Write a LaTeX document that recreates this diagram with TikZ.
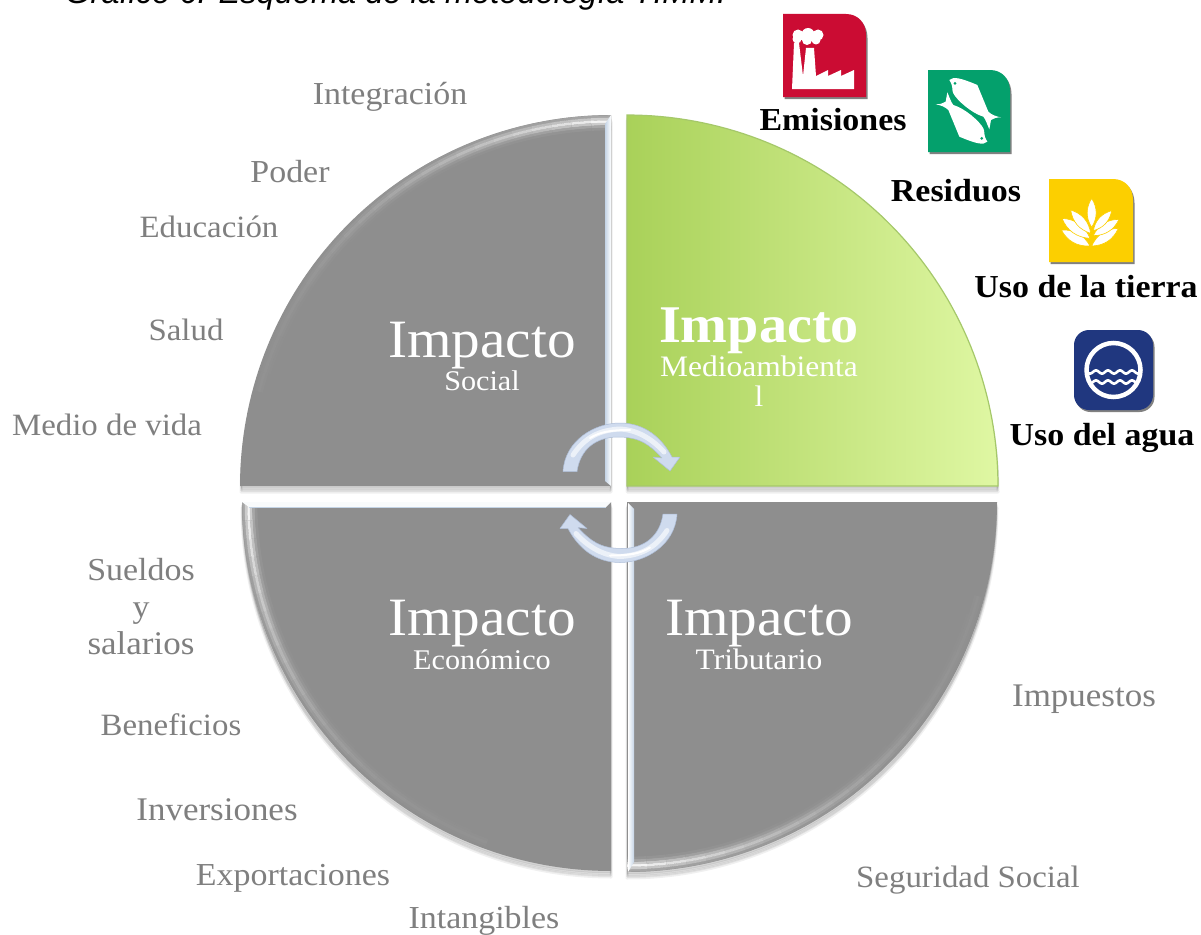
\documentclass[tikz,border=0pt]{standalone}
\usepackage{fontspec}
\setmainfont[FakeStretch=1.06]{Liberation Serif}
\newfontfamily\titlefont{Liberation Sans}
\definecolor{qgray}{HTML}{8E8E8E}
\definecolor{lblgray}{HTML}{7F7F7F}
\definecolor{iconred}{HTML}{CB0C33}
\definecolor{icongreen}{HTML}{04A06C}
\definecolor{iconyellow}{HTML}{FCCF00}
\definecolor{iconblue}{HTML}{20377F}
\definecolor{arrowfill}{HTML}{CFDBEE}
\definecolor{arrowedge}{HTML}{AEBED8}
\definecolor{greenL}{HTML}{A9D159}
\definecolor{greenR}{HTML}{DFF7A3}
\definecolor{greenE}{HTML}{A5C86A}
\definecolor{stripblue}{HTML}{C4D4E6}
\newcommand{\fsz}[1]{\fontsize{#1}{#1}\selectfont}
\newcommand{\qpath}[5]{(#1,#2) -- plot[domain=#3:#4,samples=70] ({#1+#5*cos(\x)},{#2-#5*sin(\x)}) -- cycle}
\newcommand{\qshadow}[5]{%
  \foreach \w/\s in {3/-6pt,2/-4pt,1/-2pt}{\draw[black,fill=black,opacity=.06,line width=\w pt,line join=round] [yshift=\s] \qpath{#1}{#2}{#3}{#4}{#5};}}
\newcommand{\qgloss}[5]{%
  \foreach \d/\g in {1.5/22,4/55,6.5/90,9/55,11.5/22,14/6}{%
    \foreach \i in {0,...,23}{%
      \pgfmathsetmacro{\aa}{#4+(#5-#4)*\i/24}%
      \pgfmathsetmacro{\ab}{#4+(#5-#4)*(\i+1)/24}%
      \pgfmathsetmacro{\op}{0.04+0.96*(1-\i/24)^2.5}%
      \draw[white!\g!qgray,opacity=\op,line width=2.6pt]
        plot[domain=\aa:\ab,samples=3] ({#1+(#3-\d)*cos(\x)},{#2-(#3-\d)*sin(\x)});
    }}}
\newcommand{\leaf}[2]{\filldraw[fill=white,draw=iconyellow,line width=.6pt] (#1) to[bend left=32] (#2) to[bend left=32] (#1) -- cycle;}
\newcommand{\fishshape}{(628,240) .. controls (640,228) and (665,235) .. (712,255) -- (745,335) .. controls (755,345) and (770,350) .. (783,352) .. controls (770,352) and (760,355) .. (753,360) -- (748,388) .. controls (742,375) and (737,358) .. (730,350) .. controls (695,340) and (650,300) .. (640,280) .. controls (634,270) and (642,262) .. (628,240) -- cycle}
\newcommand{\turnarrow}{(563,471.5) .. controls (565,440) and (595,423) .. (620,423) .. controls (645,423) and (662,438) .. (672,457) -- (680,457) -- (670,471) -- (653,457) -- (662,458) .. controls (650,445) and (640,437) .. (618,437) .. controls (595,437) and (580,450) .. (577,471.5) -- cycle}
\newcommand{\turnarrowdraw}{%
  \fill[arrowfill] \turnarrow;
  \begin{scope}
    \clip \turnarrow;
    \draw[white!60!arrowfill,line width=5pt,line cap=round] (573,455) .. controls (585,437) and (600,430) .. (620,429) .. controls (640,430) and (655,442) .. (664,452);
    \draw[white,line width=2pt,line cap=round] (590,438) .. controls (600,432) and (610,430) .. (630,430);
  \end{scope}
  \draw[arrowedge,line width=.5pt,line join=round] \turnarrow;
}
\newcommand{\badge}[5]{%
  \fill[black!70,opacity=.7] (#1+1.5,#2+2) -- (#3-18,#2+2) .. controls (#3-6,#2+2) and (#3+1.5,#2+12) .. (#3+1.5,#2+24) -- (#3+1.5,#4+2) -- (#1+1.5,#4+2) -- cycle;
  \fill[#5] (#1,#2) -- (#3-20,#2) .. controls (#3-8,#2) and (#3,#2+9) .. (#3,#2+21) -- (#3,#4) -- (#1,#4) -- cycle;}
\tikzset{
  lbl/.style={anchor=base,inner sep=0pt,text=lblgray,font=\fsz{32}},
  lblsmall/.style={lbl,font=\fsz{31}},
  blackbold/.style={anchor=base,inner sep=0pt,text=black,font=\fsz{32}\bfseries},
  bigw/.style={anchor=base,inner sep=0pt,text=white,font=\fsz{54}},
  bigwb/.style={anchor=base,inner sep=0pt,text=white,font=\fsz{53}\bfseries},
  subw/.style={anchor=base,inner sep=0pt,text=white,font=\fsz{28.5}},
  subwl/.style={subw,font=\fsz{29.7}},
}
\begin{document}
\begin{tikzpicture}[x=1pt,y=-1pt]
\clip (0,0) rectangle (1201,934);
\fill[white] (0,0) rectangle (1201,934);
\node[anchor=base west,inner sep=0pt,font=\titlefont\itshape\fsz{32.6}] (title) at (65,4) {Gráfico 6: Esquema de la metodología TIMM.};

% shadows
\qshadow{611}{486}{180}{90}{370}
\qshadow{627}{486}{90}{0}{371}
\qshadow{611}{502}{270}{180}{369}
\qshadow{627}{502}{360}{270}{370}

% top-left quadrant
\fill[qgray] \qpath{611}{486}{180}{90}{371};
\begin{scope}
  \clip \qpath{611}{486}{180}{90}{371};
  \qgloss{611}{486}{371}{90}{165}
\end{scope}
\shade[left color=stripblue,right color=white] (605,124) -- (611,115) -- (611,486) -- (605,481) -- cycle;

% top-right quadrant
\shade[left color=greenL,right color=greenR,draw=greenE,line width=1.2pt] \qpath{627}{486}{90}{0}{371};

% bottom-left quadrant
\fill[qgray] \qpath{611}{502}{270}{180}{369};
\begin{scope}
  \clip \qpath{611}{502}{270}{180}{369};
  \qgloss{611}{502}{369}{180}{250}
\end{scope}
\fill[white!90!stripblue] (242,502) -- (611,502) -- (606,507) -- (249,507) -- cycle;
\draw[stripblue,line width=1pt] (249,507) -- (606,507);

% bottom-right quadrant
\fill[qgray] \qpath{627}{502}{360}{270}{370};
\begin{scope}
  \clip \qpath{627}{502}{360}{270}{370};
  \qgloss{627}{502}{370}{270}{345}
\end{scope}
\shade[left color=white,right color=stripblue] (628,503) -- (634,509) -- (634,862) -- (628,872) -- cycle;

% turning arrows
\turnarrowdraw
\begin{scope}[rotate around={180:(620,492.75)}]
  \turnarrowdraw
\end{scope}

% quadrant texts
\node[bigw] (socialA) at (482,357) {Impacto};
\node[subw] (socialB) at (482,390.5) {Social};
\node[bigwb] (medioA) at (759,342) {Impacto};
\node[subwl] (medioB) at (759,376) {Medioambienta};
\node[subwl] (medioC) at (759,406.5) {l};
\node[bigw] (econA) at (482,635) {Impacto};
\node[subw] (econB) at (482,669) {Económico};
\node[bigw] (tribA) at (759,635) {Impacto};
\node[subwl] (tribB) at (759,669) {Tributario};

% outer labels
\node[lbl] (l1) at (390,104) {Integración};
\node[lbl] (l2) at (290,182) {Poder};
\node[lblsmall] (l3) at (209,237) {Educación};
\node[lblsmall] (l4) at (186,340) {Salud};
\node[lblsmall] (l5) at (107,435) {Medio de vida};
\node[lbl] (l6) at (141,580) {Sueldos};
\node[lbl] (l7) at (141,617) {y};
\node[lbl,font=\fsz{33}] (l8) at (141,654) {salarios};
\node[lblsmall] (l9) at (171,735) {Beneficios};
\node[lbl,font=\fsz{33}] (l10) at (217,820) {Inversiones};
\node[lbl] (l11) at (293,885) {Exportaciones};
\node[lbl] (l12) at (484,928) {Intangibles};
\node[lbl,font=\fsz{33}] (l13) at (1084,706) {Impuestos};
\node[lblsmall] (l14) at (968,887) {Seguridad Social};

% emission icon
\badge{783}{14}{866}{97}{iconred}
\fill[white] (792,89) -- (794,43) -- (799,43) -- (803,76) -- (806,48) -- (814,48) -- (816,76) -- (828,70) -- (828,76) -- (841,70) -- (841,76) -- (854,70) -- (854,89) -- cycle;
\fill[white] (798,35) circle (5.5) (808,34.5) circle (6.5) (818,35) circle (5.5) (797,39) circle (4.5) (807,40) circle (5) (816,40) circle (4.5) (802,36) circle (4);
\node[blackbold] (emis) at (833,130) {Emisiones};

% residue icon
\badge{928}{70}{1010}{152}{icongreen}
\begin{scope}[shift={(740,0)},x=1pt/3,y=-1pt/3]
  \fill[white] \fishshape;
  \fill[icongreen] (645,250) circle (1.5pt);
  \begin{scope}[rotate around={180:(685,332.5)}]
    \fill[white] \fishshape;
    \fill[icongreen] (645,250) circle (1.5pt);
  \end{scope}
\end{scope}
\node[blackbold] (resid) at (956,201) {Residuos};

% land icon
\badge{1049}{179}{1133}{262}{iconyellow}
\begin{scope}[shift={(960,170)},x=1pt/3,y=-1pt/3]
  \leaf{304,180}{390,228}
  \leaf{475,175}{395,228}
  \leaf{306,145}{390,205}
  \leaf{477,148}{400,197}
  \leaf{332,120}{392,190}
  \leaf{455,122}{400,182}
  \leaf{395,85}{395,172}
\end{scope}
\node[blackbold] (tierra) at (1086,297) {Uso de la tierra};

% water icon
\fill[black!70,opacity=.7,rounded corners=15pt] (1075.5,332) rectangle (1154.5,412);
\fill[iconblue,rounded corners=15pt] (1074,330) rectangle (1153,410);
\draw[white,line width=4.5pt] (1113.5,370) circle (27);
\begin{scope}
  \clip (1113.5,370) circle (27);
  \draw[white,line width=2.6pt] plot[domain=0:54,samples=70] ({1087+\x},{372+1.6*sin(\x*30)});
  \draw[white,line width=2.6pt] plot[domain=0:54,samples=70] ({1087+\x},{382+1.6*sin(\x*30)});
\end{scope}
\node[blackbold] (agua) at (1102,445) {Uso del agua};
\end{tikzpicture}
\end{document}
